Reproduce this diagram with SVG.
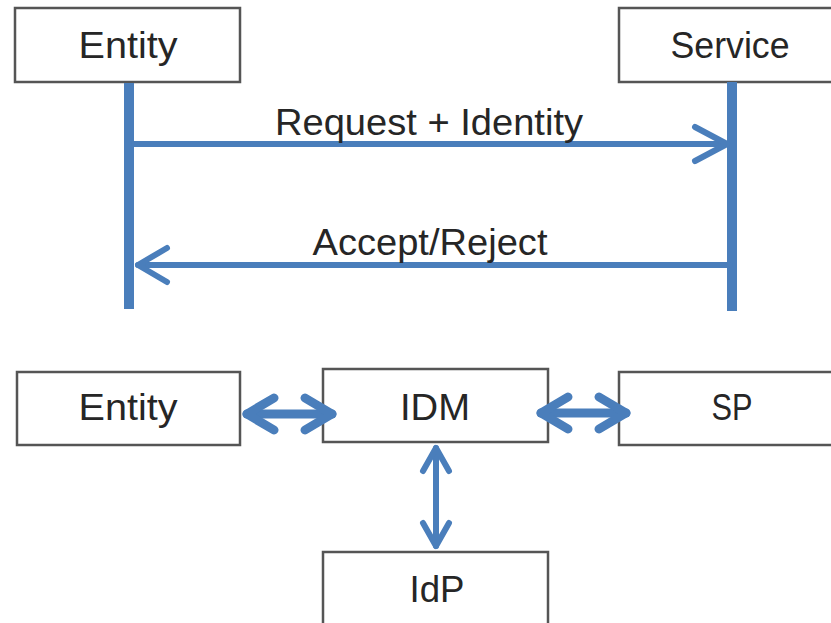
<svg xmlns="http://www.w3.org/2000/svg" width="831" height="623" viewBox="0 0 831 623">
<style>
.box{fill:#fff;stroke:#555;stroke-width:2.5}
.t{font-family:"Liberation Sans",Arial,sans-serif;font-size:36px;fill:#262626;text-anchor:middle}
.life{stroke:#4a7ebb;stroke-width:10;fill:none}
.ln{stroke:#4a7ebb;stroke-width:6;fill:none;stroke-linecap:round;stroke-linejoin:round}
.thick{stroke:#4a7ebb;stroke-width:9;fill:none;stroke-linecap:round;stroke-linejoin:round}
</style>
<rect width="831" height="623" fill="#fff"/>
<g id="entity-top"><rect class="box" x="15" y="8" width="225" height="74"/><text class="t" x="128" y="58" textLength="99" lengthAdjust="spacingAndGlyphs">Entity</text></g>
<g id="service-top"><rect class="box" x="619" y="8" width="230" height="74"/><text class="t" x="730" y="58" textLength="119" lengthAdjust="spacingAndGlyphs">Service</text></g>
<g id="entity-bottom"><rect class="box" x="17" y="372" width="223" height="73"/><text class="t" x="128" y="420" textLength="99" lengthAdjust="spacingAndGlyphs">Entity</text></g>
<g id="idm"><rect class="box" x="323" y="369" width="225" height="73"/><text class="t" x="435" y="420" textLength="70" lengthAdjust="spacingAndGlyphs">IDM</text></g>
<g id="sp"><rect class="box" x="619" y="372" width="230" height="73"/><text class="t" x="732" y="420" textLength="41" lengthAdjust="spacingAndGlyphs">SP</text></g>
<g id="idp"><rect class="box" x="323" y="552" width="225" height="80"/><text class="t" x="437" y="602" textLength="55" lengthAdjust="spacingAndGlyphs">IdP</text></g>
<g id="connectors">
<line class="life" x1="129" y1="83" x2="129" y2="309"/>
<line class="life" x1="732" y1="82" x2="732" y2="311"/>
<line class="ln" x1="134" y1="144" x2="727" y2="144"/>
<polyline class="ln" points="695,127 727,144 695,161" stroke-width="7"/>
<text class="t" x="429" y="135" textLength="308" lengthAdjust="spacingAndGlyphs">Request + Identity</text>
<line class="ln" x1="730" y1="265" x2="138" y2="265"/>
<polyline class="ln" points="167,248 138,265 167,282" stroke-width="7"/>
<text class="t" x="430" y="255" textLength="235" lengthAdjust="spacingAndGlyphs">Accept/Reject</text>
<line class="thick" x1="247" y1="414" x2="332" y2="414"/>
<polyline class="thick" points="274,398 247,414 274,430"/>
<polyline class="thick" points="305,398 332,414 305,430"/>
<line class="thick" x1="541" y1="413" x2="626" y2="413"/>
<polyline class="thick" points="568,397 541,413 568,429"/>
<polyline class="thick" points="599,397 626,413 599,429"/>
<line class="ln" x1="436" y1="448" x2="436" y2="546"/>
<polyline class="ln" points="423,471 436,448 449,471"/>
<polyline class="ln" points="423,523 436,546 449,523"/>
</g>
</svg>
